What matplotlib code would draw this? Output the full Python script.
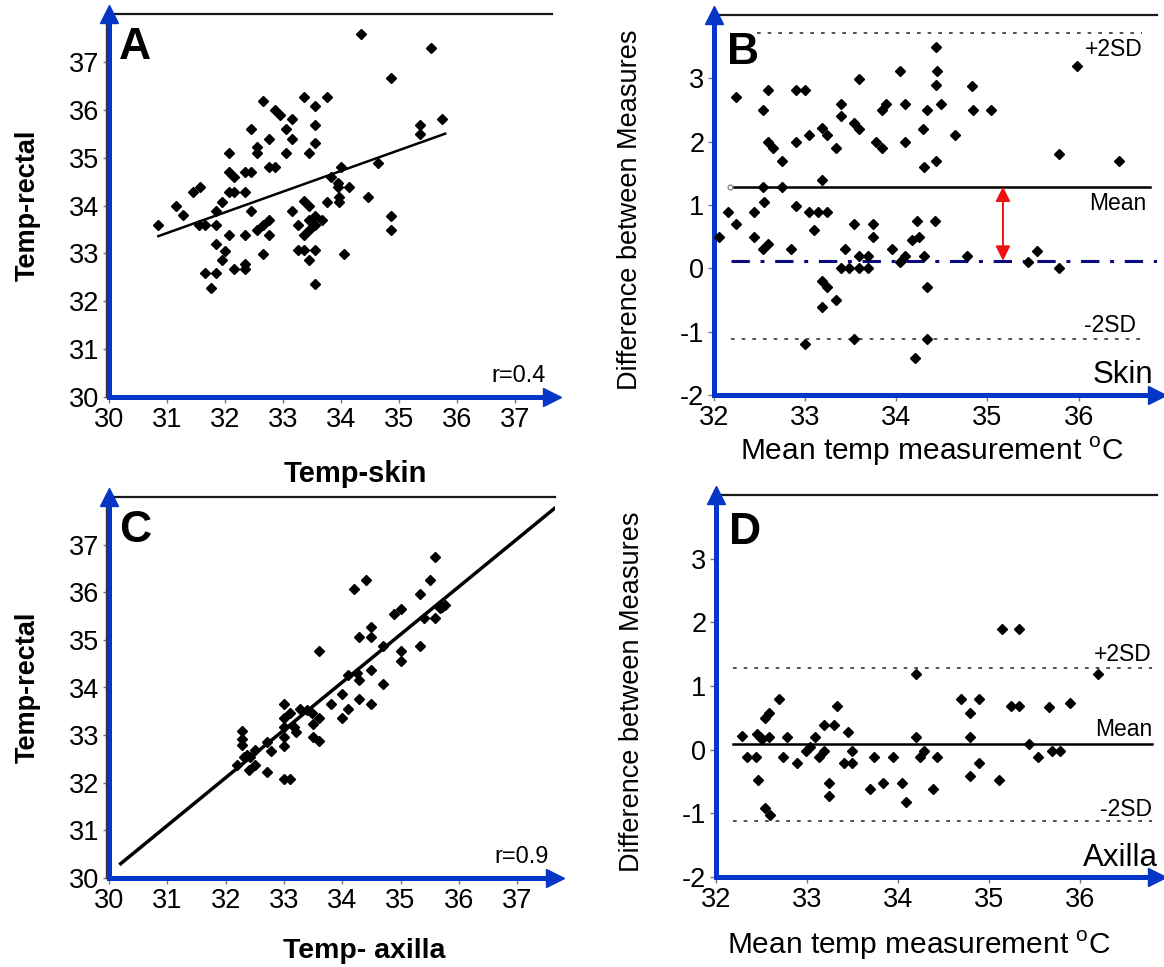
import matplotlib
matplotlib.use("Agg")
import matplotlib.pyplot as plt
from matplotlib.transforms import offset_copy

plt.rcParams["font.family"] = ["Liberation Sans", "DejaVu Sans"]
plt.rcParams["mathtext.fontset"] = "custom"
plt.rcParams["mathtext.rm"] = "Liberation Sans"
plt.rcParams["axes.unicode_minus"] = False

BLUE = "#0636c8"

# Panel A: skin vs rectal
skin_x = [30.85, 31.16, 31.27, 31.45, 31.56, 31.55, 31.66, 31.84, 31.95, 31.84, 31.66, 31.84,
          31.76, 31.84, 31.99, 31.95, 32.06, 32.16, 32.06, 32.06, 32.16, 32.06, 32.16, 32.35,
          32.35, 32.44, 32.44, 32.44, 32.35, 32.35, 32.35, 32.55, 32.55, 32.65, 32.76, 32.76,
          32.86, 32.55, 32.65, 32.76, 32.76, 32.65, 32.86, 32.95, 33.15, 33.05, 33.15, 33.05,
          33.15, 33.26, 33.26, 33.36, 33.36, 33.54, 33.54, 33.54, 33.44, 33.76, 33.36, 33.44,
          33.36, 33.44, 33.54, 33.54, 33.66, 33.44, 33.54, 33.44, 33.54, 33.76, 33.82, 33.94,
          33.99, 33.94, 33.96, 33.96, 34.14, 34.04, 34.34, 34.46, 34.64, 34.85, 34.86, 34.86,
          35.55, 35.35, 35.35, 35.74]
skin_rectal = [33.59, 33.99, 33.80, 34.29, 34.39, 33.59, 33.59, 33.89, 34.08, 33.59, 32.58, 32.58,
               32.28, 33.19, 33.06, 32.87, 33.38, 32.68, 35.09, 34.69, 34.59, 34.29, 34.29, 34.29,
               34.69, 34.69, 35.60, 33.89, 33.38, 32.78, 32.68, 35.22, 35.09, 36.18, 35.39, 34.80,
               34.80, 33.48, 33.59, 33.69, 33.38, 32.98, 36.00, 35.90, 35.80, 35.60, 35.39, 35.09,
               33.89, 33.59, 33.08, 33.08, 36.27, 36.08, 35.69, 35.30, 35.09, 36.27, 34.10, 33.99,
               33.38, 33.48, 33.78, 33.59, 33.69, 33.69, 33.08, 32.87, 32.37, 34.08, 34.59, 34.48,
               34.80, 34.39, 34.18, 34.08, 34.39, 32.98, 37.58, 34.18, 34.89, 36.67, 33.78, 33.48,
               37.28, 35.69, 35.50, 35.80]
fit_a_x = [30.85, 35.79]
fit_a_y = [33.36, 35.50]

# Panel C: axilla vs rectal
axilla_x = [32.20, 32.28, 32.28, 32.28, 32.36, 32.40, 32.42, 32.51, 32.50, 32.71, 32.71, 32.78,
            33.00, 33.00, 33.01, 33.00, 33.01, 33.00, 33.10, 33.10, 33.17, 33.21, 33.28, 33.48,
            33.50, 33.50, 33.60, 33.60, 33.61, 33.80, 34.00, 34.00, 34.10, 34.10, 34.20, 34.28,
            34.28, 34.28, 34.40, 34.49, 34.49, 34.49, 34.49, 34.70, 34.70, 34.88, 35.00, 35.00,
            35.00, 35.33, 35.34, 35.40, 35.51, 35.60, 35.60, 35.68, 35.77, 35.71, 32.31, 33.40,
            34.25]
axilla_rectal = [32.37, 33.09, 32.91, 32.79, 32.58, 32.27, 32.54, 32.37, 32.68, 32.23, 32.86, 32.67,
                 33.66, 33.36, 33.17, 32.97, 32.77, 32.07, 32.07, 33.46, 33.17, 33.07, 33.55, 33.46,
                 33.24, 32.97, 33.36, 32.88, 34.77, 33.66, 33.87, 33.36, 33.55, 34.26, 36.06, 35.06,
                 34.16, 33.76, 36.25, 35.26, 35.05, 34.37, 33.66, 34.07, 34.87, 35.55, 35.64, 34.77,
                 34.56, 35.97, 34.87, 35.45, 36.25, 36.75, 35.45, 35.66, 35.74, 35.69, 32.54, 33.52,
                 34.30]
fit_c_x = [30.20, 37.68]
fit_c_y = [30.30, 37.80]

# Panel B: Bland-Altman skin
b_mean_x = [32.05, 32.15, 32.24, 32.24, 32.44, 32.44, 32.54, 32.54, 32.55, 32.54, 32.59, 32.59,
            32.65, 32.59, 32.75, 32.75, 32.84, 32.90, 33.00, 32.90, 32.90, 33.00, 33.04, 33.04,
            33.10, 33.14, 33.19, 33.24, 33.19, 33.24, 33.19, 33.24, 33.19, 33.34, 33.34, 33.39,
            33.39, 33.39, 33.44, 33.48, 33.54, 33.59, 33.54, 33.54, 33.59, 33.59, 33.59, 33.69,
            33.69, 33.74, 33.74, 33.78, 33.84, 33.84, 33.89, 33.95, 34.04, 34.09, 34.09, 34.04,
            34.09, 34.17, 34.20, 34.23, 34.25, 34.29, 34.30, 34.30, 34.34, 34.34, 34.34, 34.42,
            34.44, 34.45, 34.44, 34.49, 34.44, 34.64, 34.78, 34.83, 34.84, 35.04, 35.45, 35.54,
            35.79, 35.79, 35.98, 36.44]
b_diff = [0.49, 0.89, 2.71, 0.70, 0.89, 0.49, 2.50, 1.29, 1.05, 0.30, 2.81, 2.00,
          1.90, 0.39, 1.70, 1.29, 0.30, 2.81, 2.81, 2.00, 0.98, -1.20, 2.11, 0.89,
          0.61, 0.89, 2.21, 2.11, 1.39, 0.89, -0.20, -0.30, -0.61, 1.90, -0.50, 2.60,
          2.41, 0.00, 0.30, 0.00, 2.30, 2.20, 0.70, -1.11, 2.99, 0.19, 0.00, 0.19,
          0.00, 0.70, 0.49, 2.00, 1.90, 2.50, 2.60, 0.30, 3.11, 2.60, 2.00, 0.10,
          0.19, 0.44, -1.41, 0.74, 0.49, 2.20, 1.60, 0.19, 2.50, -0.30, -1.11, 0.74,
          3.50, 3.12, 2.90, 2.60, 1.70, 2.11, 0.19, 2.88, 2.50, 2.50, 0.10, 0.28,
          1.81, 0.00, 3.20, 1.70]
b_mean, b_upper, b_lower, b_ref = 1.29, 3.71, -1.11, 0.12

# Panel D: Bland-Altman axilla
d_mean_x = [32.28, 32.34, 32.44, 32.45, 32.48, 32.46, 32.51, 32.54, 32.58, 32.58, 32.54, 32.59,
            32.69, 32.74, 32.78, 32.89, 32.99, 33.03, 33.09, 33.13, 33.18, 33.18, 33.29, 33.24,
            33.24, 33.33, 33.40, 33.45, 33.49, 33.49, 33.69, 33.73, 33.83, 33.94, 34.04, 34.09,
            34.19, 34.19, 34.24, 34.28, 34.38, 34.43, 34.69, 34.79, 34.79, 34.79, 34.89, 34.89,
            35.11, 35.14, 35.24, 35.33, 35.33, 35.43, 35.53, 35.66, 35.69, 35.78, 35.88, 36.19]
d_diff = [0.21, -0.11, -0.11, 0.25, 0.20, -0.47, 0.17, 0.49, 0.58, 0.20, -0.91, -1.02,
          0.80, -0.11, 0.20, -0.21, -0.02, 0.04, 0.20, -0.11, -0.02, 0.39, 0.39, -0.52,
          -0.72, 0.69, -0.21, 0.28, -0.02, -0.21, -0.62, -0.11, -0.52, -0.11, -0.52, -0.82,
          1.19, 0.20, -0.11, -0.02, -0.62, -0.11, 0.80, 0.58, 0.20, -0.41, 0.80, -0.21,
          -0.47, 1.90, 0.69, 1.90, 0.69, 0.09, -0.11, 0.67, -0.02, -0.02, 0.73, 1.19]
d_mean, d_upper, d_lower = 0.09, 1.29, -1.12

temp_ticks = [30, 31, 32, 33, 34, 35, 36, 37]
ba_xticks = [32, 33, 34, 35, 36]
ba_yticks = [-2, -1, 0, 1, 2, 3]


def style(ax, xlim, ylim, xticks, yticks, black_edge=False):
    ax.set_xlim(*xlim)
    ax.set_ylim(*ylim)
    ax.set_xticks(xticks)
    ax.set_yticks(yticks)
    for side in ("left", "bottom"):
        ax.spines[side].set_color(BLUE)
        ax.spines[side].set_linewidth(3.6)
    ax.spines["top"].set_color("#1a1a1a")
    ax.spines["top"].set_linewidth(1.6)
    ax.spines["right"].set_visible(False)
    ax.tick_params(length=4, width=1, color="#777777", labelsize=19.5, pad=3)
    if black_edge:
        # thin dark rule just outside the blue y axis
        tr = offset_copy(ax.transAxes, fig=ax.figure, x=-3, y=0, units="dots")
        ax.plot([0, 0], [0, 1], color="#333333", lw=1.0, transform=tr, clip_on=False, zorder=5)
    ax.plot([0], [1], marker="^", ms=13, color=BLUE, transform=ax.transAxes,
            clip_on=False, zorder=6)
    ax.plot([1], [0], marker=">", ms=13, color=BLUE, transform=ax.transAxes,
            clip_on=False, zorder=6)


def dots(ax, x, y):
    ax.plot(x, y, ls="none", marker="D", ms=5.2, color="black", zorder=4)


fig = plt.figure(figsize=(11.64, 9.67), dpi=100)
W, H = 1164.0, 967.0


def add_axes(l, t, r, b):
    return fig.add_axes([l / W, 1 - b / H, (r - l) / W, (b - t) / H])


axA = add_axes(109, 14, 552, 397)
axB = add_axes(714, 15, 1157, 395)
axC = add_axes(109, 497, 555, 878)
axD = add_axes(716, 495, 1157, 877)

# A
style(axA, (30, 37.63), (30, 38), temp_ticks, temp_ticks, black_edge=True)
dots(axA, skin_x, skin_rectal)
axA.plot(fit_a_x, fit_a_y, color="black", lw=1.8, zorder=3)
axA.text(0.023, 0.965, "A", transform=axA.transAxes, fontsize=32, fontweight="bold",
         ha="left", va="top")
axA.text(0.985, 0.025, "r=0.4", transform=axA.transAxes, fontsize=17, ha="right", va="bottom")
axA.set_ylabel("Temp-rectal", fontsize=19.5, fontweight="bold")
axA.yaxis.set_label_coords(-0.153, 0.5)
axA.set_xlabel("Temp-skin", fontsize=21, fontweight="bold")
axA.xaxis.set_label_coords(0.556, -0.165)

# C
style(axC, (30, 37.65), (30, 38), temp_ticks, temp_ticks, black_edge=True)
dots(axC, axilla_x, axilla_rectal)
axC.plot(fit_c_x, fit_c_y, color="black", lw=2.5, zorder=3)
axC.text(0.023, 0.965, "C", transform=axC.transAxes, fontsize=32, fontweight="bold",
         ha="left", va="top")
axC.text(0.985, 0.025, "r=0.9", transform=axC.transAxes, fontsize=17, ha="right", va="bottom")
axC.set_ylabel("Temp-rectal", fontsize=19.5, fontweight="bold")
axC.yaxis.set_label_coords(-0.153, 0.5)
axC.set_xlabel("Temp- axilla", fontsize=20.5, fontweight="bold")
axC.xaxis.set_label_coords(0.573, -0.158)

dot_style = dict(color="#333333", lw=1.2, ls=(0, (2.2, 4.2)))

# B
style(axB, (32, 36.86), (-2, 4), ba_xticks, ba_yticks)
dots(axB, b_mean_x, b_diff)
axB.plot([32.47, 36.70], [b_upper, b_upper], **dot_style)
axB.plot([32.19, 36.70], [b_lower, b_lower], **dot_style)
axB.plot([32.18, 36.78], [b_mean, b_mean], color="black", lw=1.8, zorder=3)
axB.plot([32.18], [b_mean], marker="o", ms=3.5, mfc="white", mec="#888888", zorder=5)
axB.plot([32.19, 36.86], [b_ref, b_ref], color="#0b0b80", lw=2.2,
         ls=(0, (6, 3.5, 1.3, 3.5)), zorder=3)
axB.annotate("", xy=(35.17, b_ref), xytext=(35.17, b_mean),
             arrowprops=dict(arrowstyle="<|-|>", color="#ee1111", lw=1.4, mutation_scale=22,
                             shrinkA=0, shrinkB=0), zorder=6)
axB.text(36.70, 3.45, "+2SD", fontsize=16.5, ha="right", va="center")
axB.text(36.74, 1.02, "Mean", fontsize=16.5, ha="right", va="center")
axB.text(36.63, -0.90, "-2SD", fontsize=16.5, ha="right", va="center")
axB.text(36.82, -1.69, "Skin", fontsize=22.5, ha="right", va="center")
axB.text(0.029, 0.955, "B", transform=axB.transAxes, fontsize=32, fontweight="bold",
         ha="left", va="top")
axB.set_ylabel("Difference between Measures", fontsize=19.5)
axB.yaxis.set_label_coords(-0.16, 0.487)
axB.set_xlabel("Mean temp measurement $^{\\rm o}$C", fontsize=21.5)
axB.xaxis.set_label_coords(0.493, -0.105)

# D
style(axD, (32, 36.84), (-2, 4), ba_xticks, ba_yticks)
dots(axD, d_mean_x, d_diff)
axD.plot([32.19, 36.79], [d_upper, d_upper], **dot_style)
axD.plot([32.19, 36.79], [d_lower, d_lower], **dot_style)
axD.plot([32.19, 36.79], [d_mean, d_mean], color="black", lw=1.8, zorder=3)
axD.text(36.78, 1.49, "+2SD", fontsize=16.5, ha="right", va="center")
axD.text(36.79, 0.32, "Mean", fontsize=16.5, ha="right", va="center")
axD.text(36.78, -0.94, "-2SD", fontsize=16.5, ha="right", va="center")
axD.text(36.85, -1.70, "Axilla", fontsize=22.5, ha="right", va="center")
axD.text(0.029, 0.955, "D", transform=axD.transAxes, fontsize=32, fontweight="bold",
         ha="left", va="top")
axD.set_ylabel("Difference between Measures", fontsize=19.5)
axD.yaxis.set_label_coords(-0.16, 0.484)
axD.set_xlabel("Mean temp measurement $^{\\rm o}$C", fontsize=21.5)
axD.xaxis.set_label_coords(0.46, -0.137)

fig.savefig("out.png", dpi=100, facecolor="white")
